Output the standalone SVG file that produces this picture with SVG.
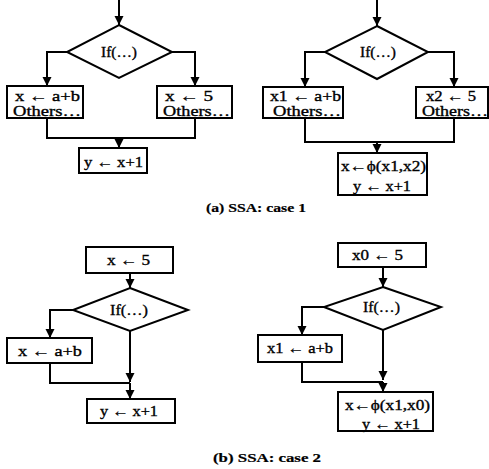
<svg xmlns="http://www.w3.org/2000/svg" width="489" height="469" viewBox="0 0 489 469">
<style>
.s{fill:none;stroke:#000;stroke-width:2}
.b{fill:#fff;stroke:#000;stroke-width:2}
.c{fill:none;stroke:#000;stroke-width:2;marker-end:url(#ah)}
text{font-family:"Liberation Serif","Times New Roman",serif;font-size:15px;fill:#000;stroke:#000;stroke-width:0.35}
.cap{font-weight:bold;font-size:13px;stroke-width:0.2}
</style>
<defs>
<marker id="ah" markerUnits="userSpaceOnUse" markerWidth="10" markerHeight="10" refX="9" refY="4.5" orient="auto"><path d="M0,0 L9,4.5 L0,9 z" fill="#000"/></marker>
</defs>
<rect width="489" height="469" fill="#fff"/>
<g id="connectors">
<path class="c" d="M119,0 V25"/>
<path class="c" d="M67,52 H47 V86"/>
<path class="c" d="M172,52 H195 V86"/>
<path class="s" d="M47,118 V138 H195 V118"/>
<path class="c" d="M119,138 V148"/>
<path class="c" d="M377,0 V26"/>
<path class="c" d="M325,52 H305 V87"/>
<path class="c" d="M428,52 H454 V87"/>
<path class="s" d="M305,118 V142 H454 V118"/>
<path class="c" d="M377,142 V153"/>
<path class="c" d="M130,273 V288"/>
<path class="c" d="M73,310 H50 V338"/>
<path class="c" d="M130,331 V382"/>
<path class="s" d="M50,363 V383 H130"/>
<path class="c" d="M130,383 V399"/>
<path class="c" d="M383,267 V287"/>
<path class="c" d="M324,307 H302 V335"/>
<path class="c" d="M383,330 V380"/>
<path class="s" d="M302,362 V382 H383"/>
<path class="c" d="M383,382 V392"/>
</g>
<g id="a_if"><polygon class="b" points="119,25 172,52 119,78 67,52"/><text x="101" y="57" textLength="36" lengthAdjust="spacingAndGlyphs">If(…)</text></g>
<g id="a_left"><rect class="b" x="7" y="86" width="76" height="32"/><text x="15" y="101" textLength="65" lengthAdjust="spacingAndGlyphs">x ← a+b</text><text x="13" y="116" textLength="68" lengthAdjust="spacingAndGlyphs">Others…</text></g>
<g id="a_right"><rect class="b" x="157" y="86" width="75" height="32"/><text x="165" y="101" textLength="48" lengthAdjust="spacingAndGlyphs">x ← 5</text><text x="163" y="116" textLength="67" lengthAdjust="spacingAndGlyphs">Others…</text></g>
<g id="a_bottom"><rect class="b" x="79" y="148" width="68" height="25"/><text x="84" y="167" textLength="59" lengthAdjust="spacingAndGlyphs">y ← x+1</text></g>
<g id="a2_if"><polygon class="b" points="377,26 428,52 377,79 325,52"/><text x="360" y="57" textLength="36" lengthAdjust="spacingAndGlyphs">If(…)</text></g>
<g id="a2_left"><rect class="b" x="263" y="87" width="80" height="31"/><text x="270" y="101" textLength="71" lengthAdjust="spacingAndGlyphs">x1 ← a+b</text><text x="273" y="116" textLength="68" lengthAdjust="spacingAndGlyphs">Others…</text></g>
<g id="a2_right"><rect class="b" x="416" y="87" width="72" height="31"/><text x="426" y="101" textLength="50" lengthAdjust="spacingAndGlyphs">x2 ← 5</text><text x="422" y="116" textLength="66" lengthAdjust="spacingAndGlyphs">Others…</text></g>
<g id="a2_bottom"><rect class="b" x="338" y="153" width="89" height="42"/><text x="341" y="171" textLength="85" lengthAdjust="spacingAndGlyphs">x←ϕ(x1,x2)</text><text x="353" y="191" textLength="58" lengthAdjust="spacingAndGlyphs">y ← x+1</text></g>
<g id="cap_a"><text class="cap" x="206" y="212" textLength="100" lengthAdjust="spacingAndGlyphs">(a) SSA: case 1</text></g>
<g id="b_top"><rect class="b" x="86" y="247" width="87" height="26"/><text x="107" y="265" textLength="43" lengthAdjust="spacingAndGlyphs">x ← 5</text></g>
<g id="b_if"><polygon class="b" points="130,288 188,310 130,331 73,310"/><text x="110" y="315" textLength="38" lengthAdjust="spacingAndGlyphs">If(…)</text></g>
<g id="b_left"><rect class="b" x="7" y="338" width="85" height="25"/><text x="18" y="356" textLength="64" lengthAdjust="spacingAndGlyphs">x ← a+b</text></g>
<g id="b_bottom"><rect class="b" x="87" y="399" width="88" height="24"/><text x="100" y="416" textLength="58" lengthAdjust="spacingAndGlyphs">y ← x+1</text></g>
<g id="b2_top"><rect class="b" x="338" y="243" width="88" height="24"/><text x="352" y="260" textLength="51" lengthAdjust="spacingAndGlyphs">x0 ← 5</text></g>
<g id="b2_if"><polygon class="b" points="383,287 441,307 383,330 324,307"/><text x="363" y="312" textLength="37" lengthAdjust="spacingAndGlyphs">If(…)</text></g>
<g id="b2_left"><rect class="b" x="258" y="335" width="84" height="27"/><text x="267" y="353" textLength="66" lengthAdjust="spacingAndGlyphs">x1 ← a+b</text></g>
<g id="b2_bottom"><rect class="b" x="338" y="392" width="95" height="39"/><text x="345" y="410" textLength="85" lengthAdjust="spacingAndGlyphs">x←ϕ(x1,x0)</text><text x="362" y="429" textLength="58" lengthAdjust="spacingAndGlyphs">y ← x+1</text></g>
<g id="cap_b"><text class="cap" x="213" y="462" textLength="108" lengthAdjust="spacingAndGlyphs">(b) SSA: case 2</text></g>
</svg>
